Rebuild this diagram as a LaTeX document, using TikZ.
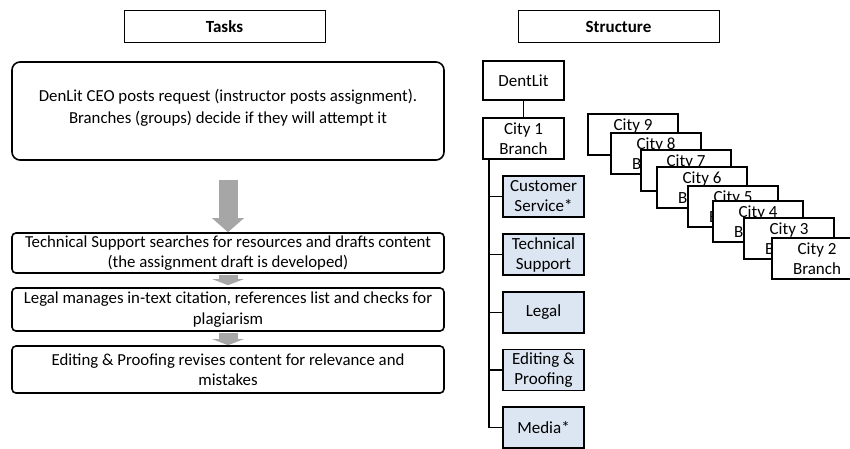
\documentclass[tikz,border=0pt]{standalone}
\usepackage{fontspec}
\setmainfont{Carlito}
\usetikzlibrary{arrows.meta}
\definecolor{arrowgray}{HTML}{A6A6A6}
\definecolor{deptfill}{HTML}{DCE6F2}
\tikzset{
  header/.style={draw, line width=0.8pt, minimum width=201pt, minimum height=32pt,
    inner sep=0pt, font=\fontsize{17}{20}\selectfont\bfseries},
  taskbox/.style={draw, line width=1.6pt, rounded corners=4pt, minimum width=432pt,
    inner sep=0pt, align=center, font=\fontsize{16.8}{20.5}\selectfont},
  orgbox/.style={draw, line width=1.6pt, minimum width=81pt, minimum height=41pt,
    inner sep=0pt, align=center, font=\fontsize{17}{20}\selectfont},
  deptbox/.style={orgbox, fill=deptfill},
  citybox/.style={draw, fill=white, line width=1.6pt, minimum width=90pt, minimum height=41pt,
    inner sep=0pt, align=center, font=\fontsize{17}{20}\selectfont},
  flowarrow/.style={arrowgray, line width=19pt,
    -{Triangle[width=31pt,length=14pt]}},
  stepflow/.style={arrowgray, line width=19pt,
    -{Triangle[width=31pt,length=6pt]}},
  tree/.style={line width=1.6pt}
}
\begin{document}
\begin{tikzpicture}[x=1pt,y=-1pt]
\useasboundingbox (0,0) rectangle (850,448);

% column headers
\node[header] (tasks) at (224.5,26.5) {Tasks};
\node[header] (structure) at (618.5,26.5) {Structure};

% task flow
\node[taskbox, rounded corners=8pt, minimum height=98pt] (ceo) at (228,111) {};
\node[align=center, inner sep=0pt, font=\fontsize{16.8}{22.5}\selectfont] (ceotext) at (228,108)
  {DenLit CEO posts request (instructor posts assignment).\\Branches (groups) decide if they will attempt it};
\node[taskbox, minimum height=40pt] (tech) at (228,253)
  {Technical Support searches for resources and drafts content\\(the assignment draft is developed)};
\node[taskbox, minimum height=43pt] (legal) at (228,309.5)
  {Legal manages in-text citation, references list and checks for\\plagiarism};
\node[taskbox, minimum height=47pt] (edit) at (228,369.5)
  {Editing \& Proofing revises content for relevance and\\mistakes};

\draw[flowarrow, shorten <=19pt] (ceo.south) -- (tech.north);
\draw[stepflow, shorten <=1pt, shorten >=2pt] (tech.south) -- (legal.north);
\draw[stepflow, shorten <=1pt, shorten >=0pt] (legal.south) -- (edit.north);

% organisation chart
\node[orgbox, minimum height=39pt] (dentlit) at (523.5,80.5) {DentLit};
\node[orgbox] (city1) at (523.5,138.5) {City 1\\Branch};
\draw[tree] (dentlit.south) -- (city1.north);

\node[deptbox] (cs) at (543.5,196.5) {Customer\\Service*};
\node[deptbox] (ts) at (543.5,254.5) {Technical\\Support};
\node[deptbox] (lg) at (543.5,312.5) {Legal};
\node[deptbox] (ep) at (543.5,370) {Editing \&\\Proofing};
\node[deptbox] (md) at (543.5,427.5) {Media*};

\coordinate (spine) at ([xshift=7pt]city1.south west);
\draw[tree] (spine) |- (md.west);
\foreach \d in {cs,ts,lg,ep}
  \draw[tree] (spine |- \d.west) -- (\d.west);

% stacked branch offices, back to front
\node[citybox] (city9) at (633,134.5) {City 9\\Branch};
\node[citybox] (city8) at (656,153.5) {City 8\\Branch};
\node[citybox] (city7) at (686,170.5) {City 7\\Branch};
\node[citybox] (city6) at (702,187.5) {City 6\\Branch};
\node[citybox] (city5) at (733,206.5) {City 5\\Branch};
\node[citybox] (city4) at (758,221.5) {City 4\\Branch};
\node[citybox] (city3) at (789,238.5) {City 3\\Branch};
\node[citybox] (city2) at (817,258.5) {City 2\\Branch};
\end{tikzpicture}
\end{document}
